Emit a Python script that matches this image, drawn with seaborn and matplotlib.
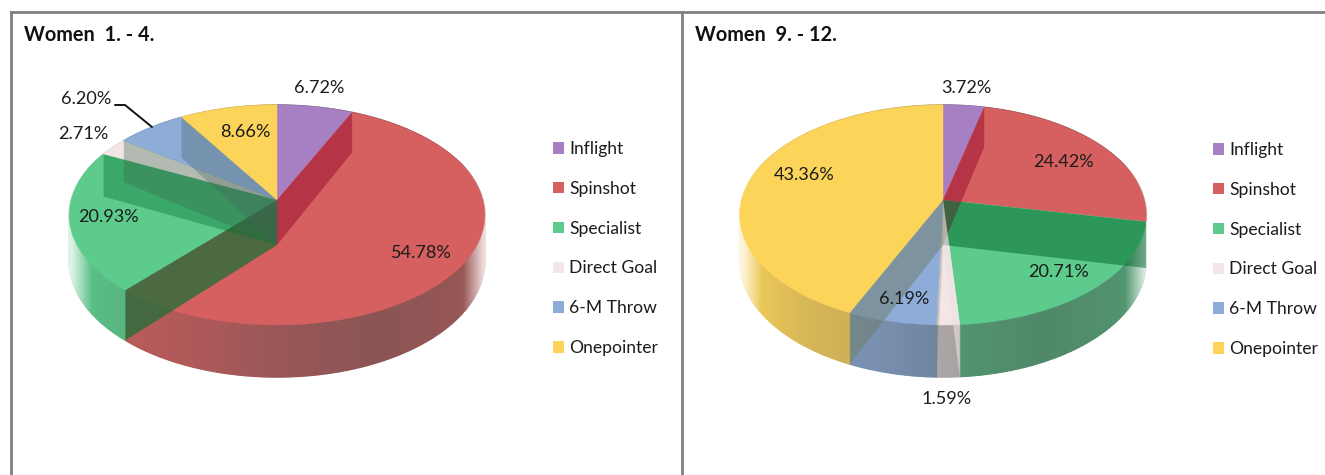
import numpy as np
import matplotlib
matplotlib.use("Agg")
import matplotlib.pyplot as plt
import matplotlib.transforms as mtransforms
from matplotlib.collections import PolyCollection
from matplotlib.patches import Patch
import seaborn as sns

categories = ["Inflight", "Spinshot", "Specialist", "Direct Goal", "6-M Throw", "Onepointer"]
women_1_4 = [6.72, 54.78, 20.93, 2.71, 6.20, 8.66]
women_9_12 = [3.72, 24.42, 20.71, 1.59, 6.19, 43.36]
title_1_4 = "Women  1. - 4."
title_9_12 = "Women  9. - 12."

sns.set_theme(style="white")
plt.rcParams["font.family"] = ["Lato", "DejaVu Sans"]
palette = sns.color_palette(["#a77fc3", "#d65f5f", "#5ccb8c", "#f4e6e6", "#8dacd8", "#fdd45a"])
W, H = 1325, 475
FRAME = "#808080"
INK = "#1c1c1c"


# flat disc -> screen pixels, far side smaller, z pushes down to the pie's bottom face
class Perspective(mtransforms.Transform):
    input_dims = 2
    output_dims = 2
    is_affine = False
    has_inverse = False

    def __init__(self, cx, cy, a, b=108.0, p=0.136, drop=45.0, z=0.0):
        super().__init__()
        self.cx, self.cy, self.a, self.b, self.p, self.drop, self.z = cx, cy, a, b, p, drop, z

    def transform_non_affine(self, values):
        values = np.asarray(values, dtype=float)
        w = 1 + self.p * values[:, 1]
        sx = self.cx + self.a * values[:, 0] / w
        sy = self.cy + (self.drop * self.z - self.b * values[:, 1]) / w
        return np.column_stack([sx, sy])


def rim_color(color, t):
    # side gets darker left to right, and fades out at both far edges
    s = np.interp(t, [-1, -0.7, -0.3, 0, 0.5, 0.85, 1], [0.05, 0.2, 0.3, 0.42, 0.52, 0.45, 0.35])
    c = np.array(color) * (1 - s) + np.array([0.27, 0.29, 0.29]) * s
    fade = np.clip((abs(t) - 0.9) / 0.1, 0, 1) * 0.8
    return tuple(c * (1 - fade) + fade)


def draw_pie(ax, values, cx, a, wall_tints):
    top = Perspective(cx, 200, a)
    low = Perspective(cx, 200, a, z=1.0)
    edges = np.cumsum([0] + values) / sum(values) * 2 * np.pi

    # side of the pie, thin strips so the shading can change along it
    polys, colors = [], []
    for i in range(len(values)):
        n = max(int((edges[i + 1] - edges[i]) / np.radians(0.7)), 2)
        th = np.linspace(edges[i], edges[i + 1], n + 1)
        pts = np.column_stack([np.sin(th), np.cos(th)])
        up, dn = top.transform(pts), low.transform(pts)
        for j in range(n):
            polys.append([up[j], up[j + 1], dn[j + 1], dn[j]])
            colors.append(rim_color(palette[i], (up[j][0] + up[j + 1][0] - 2 * cx) / 2 / a))
    ax.add_collection(PolyCollection(polys, facecolors=colors, edgecolors=colors, linewidths=0.9, zorder=1))

    wedges, _ = ax.pie(values, colors=palette, startangle=90, counterclock=False, frame=True,
                       wedgeprops={"linewidth": 0.3})
    for i, wedge in enumerate(wedges):
        wedge.set_edgecolor(palette[i])
        wedge.set_transform(top + ax.transData)
        wedge.set_zorder(2)

    # inner walls seen through the top
    for i, (tint, alpha) in enumerate(wall_tints):
        if tint is None:
            continue
        pt = np.array([[np.sin(edges[i + 1]), np.cos(edges[i + 1])], [0, 0]])
        up, dn = top.transform(pt), low.transform(pt)
        ax.fill([up[0][0], dn[0][0], dn[1][0], up[1][0]], [up[0][1], dn[0][1], dn[1][1], up[1][1]],
                color=tint, alpha=alpha, linewidth=0, zorder=3)


def finish_panel(ax, x0, x1, title, legend_x, legend_top):
    ax.set_aspect("auto")
    ax.set_xlim(x0, x1)
    ax.set_ylim(H, 12)
    ax.set_xticks([])
    ax.set_yticks([])
    ax.set_frame_on(True)
    sns.despine(ax=ax, top=False, left=False, right=True, bottom=True)
    for name in ["top", "left"]:
        ax.spines[name].set_color(FRAME)
        ax.spines[name].set_linewidth(2.0)
    ax.text(x0 + 13, 35, title, fontsize=14.3, fontweight="bold", color="#111111", ha="left", va="center")
    handles = [Patch(facecolor=palette[i], edgecolor="none", label=categories[i]) for i in range(len(categories))]
    ax.legend(handles=handles, loc="upper left", bbox_to_anchor=(legend_x, legend_top),
              bbox_transform=ax.transData, frameon=False, fontsize=12.6, labelcolor=INK,
              handlelength=0.63, handleheight=0.63, handletextpad=0.29, labelspacing=1.36,
              borderpad=0, borderaxespad=0)


fig = plt.figure(figsize=(W / 100, H / 100), dpi=100)
ax1 = fig.add_axes([11 / W, 0, (681 - 11) / W, (H - 12) / H])
ax2 = fig.add_axes([682 / W, 0, (W - 682 + 4) / W, (H - 12) / H])

draw_pie(ax1, women_1_4, 277, 206, [("#a01a38", 0.6), ("#1e6e37", 0.75), ("#00702f", 0.38),
                                    ("#3c6a50", 0.35), ("#46625a", 0.33), (None, 0)])
draw_pie(ax2, women_9_12, 943, 201.5, [("#a01a38", 0.6), ("#006428", 0.5), ("#ebe1e1", 0.6),
                                       ("#6e7d69", 0.3), ("#6e7d69", 0.5), (None, 0)])
finish_panel(ax1, 11, 681, title_1_4, 553, 141)
finish_panel(ax2, 682, W + 4, title_9_12, 1213, 142)

labels_1 = [(319, 88), (420, 253), (108, 217), (83, 134), (86, 99), (245, 132)]
labels_2 = [(966, 88), (1063, 162), (1059, 272), (947, 399), (904, 299), (804, 175)]
for ax, values, spots in [(ax1, women_1_4, labels_1), (ax2, women_9_12, labels_2)]:
    for v, (lx, ly) in zip(values, spots):
        ax.text(lx, ly, f"{v:.2f}%", fontsize=13.1, color=INK, ha="center", va="center", zorder=5)

# leader for the 6.20% label
ax1.plot([115, 125, 152], [105, 105, 127], color="#111111", lw=1.4, zorder=5)

fig.savefig("out.png", dpi=100, facecolor="white")
